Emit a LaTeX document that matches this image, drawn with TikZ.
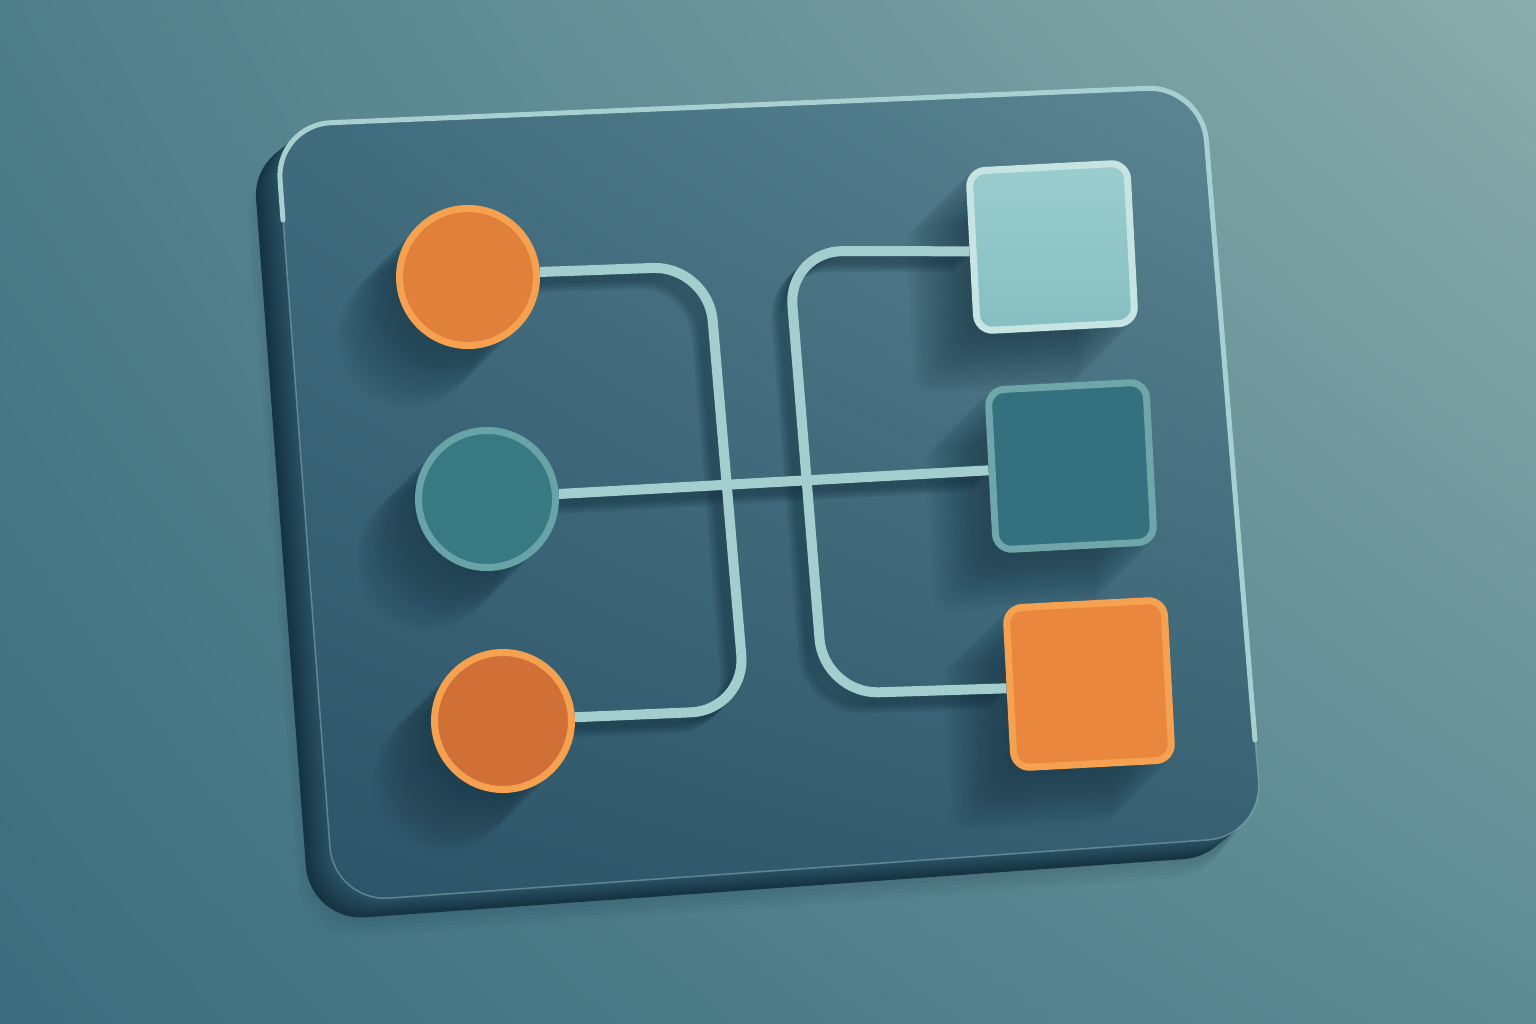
\documentclass[tikz,border=0pt]{standalone}
\usepackage{xcolor}
\usepackage{tikz}
\usetikzlibrary{shadings}

\definecolor{bgTL}{HTML}{4E7E89}
\definecolor{bgTR}{HTML}{8AACAB}
\definecolor{bgBL}{HTML}{3C6D7E}
\definecolor{bgBR}{HTML}{5E8B93}
\definecolor{faceTL}{HTML}{416C7E}
\definecolor{faceTR}{HTML}{5D8793}
\definecolor{faceBL}{HTML}{2C5468}
\definecolor{faceBR}{HTML}{345D6F}
\definecolor{edge}{HTML}{15323F}
\definecolor{edgeLight}{HTML}{2A5265}
\definecolor{rim}{HTML}{A9D0D0}
\definecolor{wireC}{HTML}{A4CDCD}
\definecolor{shadowC}{HTML}{14303F}
\definecolor{orangeFill}{HTML}{E0803A}
\definecolor{orangeDeep}{HTML}{D07036}
\definecolor{orangeRim}{HTML}{F5A14F}
\definecolor{orangeSq}{HTML}{E8873D}
\definecolor{tealFill}{HTML}{397A82}
\definecolor{tealRim}{HTML}{67A3A7}
\definecolor{mintTop}{HTML}{9ACDCE}
\definecolor{mintBot}{HTML}{86BFC1}
\definecolor{mintRim}{HTML}{C6E4E2}
\definecolor{petrolFill}{HTML}{34707E}
\definecolor{petrolRim}{HTML}{6EA6AA}

\pgfdeclarelayer{board}
\pgfdeclarelayer{wires}
\pgfsetlayers{board,wires,main}

\newcommand{\boardpath}{(276,125) -- (1202,86) -- (1263,836) -- (334,902) -- cycle}

\begin{document}
\begin{tikzpicture}[x=1pt, y=-1pt,
    dot/.style = {draw, circle, line width=7pt, minimum size=137pt, inner sep=0pt},
    card/.style = {draw, rectangle, rounded corners=16pt, line width=7pt, minimum width=158pt, minimum height=160pt, inner sep=0pt, rotate=3},
    wire/.style = {draw=wireC, line width=10pt, rounded corners=55pt},
    plate/.style = {rounded corners=55pt}]
\useasboundingbox (0,0) rectangle (1536,1024);

\begin{pgfonlayer}{board}
    \shade[upper left=bgTL, upper right=bgTR, lower left=bgBL, lower right=bgBR] (0,0) rectangle (1536,1024);
    % shadow on the wall
    \foreach \k in {8,16,...,64}
        \fill[plate, shadowC, opacity=0.045, transform canvas={shift={(-\k*0.5,\k*0.6)}}] \boardpath;
    % thickness of the board
    \foreach \k [evaluate=\k as \p using int(100-\k*4)] in {24,22,...,2}
        \fill[plate, edgeLight!\p!edge, transform canvas={shift={(-\k,\k*0.8)}}] \boardpath;
    % face
    \shade[plate, upper left=faceTL, upper right=faceTR, lower left=faceBL, lower right=faceBR] \boardpath;
    \draw[plate, rim, line width=1.5pt, opacity=0.4] \boardpath;
    \draw[plate, rim, line width=5pt, line cap=round] (283,220) -- (276,125) -- (1202,86) -- (1255,740);
\end{pgfonlayer}

\node[dot, draw=orangeRim, fill=orangeFill] (c1) at (468,277) {};
\node[dot, draw=tealRim,   fill=tealFill]   (c2) at (487,499) {};
\node[dot, draw=orangeRim, fill=orangeDeep] (c3) at (503,721) {};
\node[card, draw=mintRim, top color=mintTop, bottom color=mintBot] (s1) at (1052,247) {};
\node[card, draw=petrolRim, fill=petrolFill] (s2) at (1071,466) {};
\node[card, draw=orangeRim, fill=orangeSq]   (s3) at (1089,684) {};

\coordinate (a1) at (708,266);
\coordinate (a2) at (746,710);
\coordinate (b1) at (788,251);
\coordinate (b2) at (824,694);

% long shadows
\begin{pgfonlayer}{board}
    \foreach \k in {3,6,...,60} {
        \foreach \n in {c1,c2,c3}
            \fill[shadowC, opacity=0.035, transform canvas={shift={(-\k,\k)}}] (\n.center) circle (71);
        \foreach \n in {s1,s2,s3}
            \fill[shadowC, opacity=0.035, rounded corners=16pt, transform canvas={shift={(-\k,\k)}}]
                (\n.north west) -- (\n.north east) -- (\n.south east) -- (\n.south west) -- cycle;
    }
\end{pgfonlayer}

\begin{pgfonlayer}{wires}
    \foreach \k in {2,4,...,16} {
        \draw[wire, draw=shadowC, opacity=0.12, transform canvas={shift={(-\k,\k)}}] (c1.4) -- (a1) -- (a2) -- (c3.3);
        \draw[wire, draw=shadowC, opacity=0.12, transform canvas={shift={(-\k,\k)}}] (s1.west) -- (b1) -- (b2) -- (s3.west);
        \draw[wire, draw=shadowC, opacity=0.12, transform canvas={shift={(-\k,\k)}}] (c2.4) -- (s2.west);
    }
    \draw[wire] (c1.4) -- (a1) -- (a2) -- (c3.3);
    \draw[wire] (s1.west) -- (b1) -- (b2) -- (s3.west);
    \draw[wire] (c2.4) -- (s2.west);
\end{pgfonlayer}
\end{tikzpicture}
\end{document}
